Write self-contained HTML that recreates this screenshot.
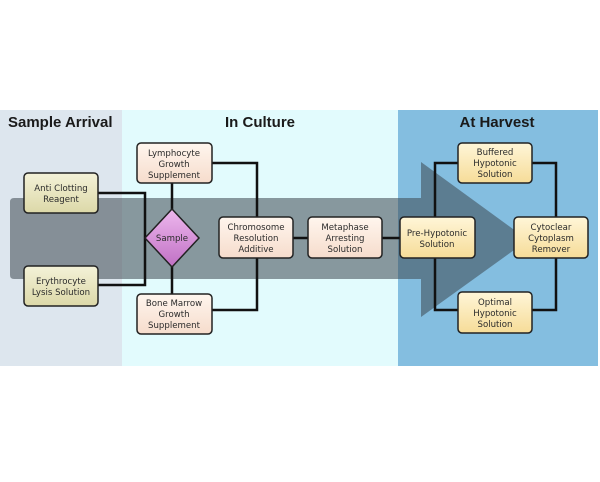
<!DOCTYPE html>
<html><head><meta charset="utf-8"><style>
html,body{margin:0;padding:0;background:#fff;}
svg{display:block;}
text{font-family:"DejaVu Sans","Liberation Sans",sans-serif;}
.t{font-family:"Liberation Sans",sans-serif;font-weight:bold;font-size:15px;fill:#1a1a1a;}
.b{font-size:8.6px;fill:#2a2a2a;text-anchor:middle;}
</style></head><body>
<svg width="600" height="482" viewBox="0 0 600 482">
<defs>
<linearGradient id="ga" x1="0" y1="0" x2="0" y2="1"><stop offset="0" stop-color="#f4f2d8"/><stop offset="1" stop-color="#dcd8a8"/></linearGradient>
<linearGradient id="gp" x1="0" y1="0" x2="0" y2="1"><stop offset="0" stop-color="#fff6ee"/><stop offset="1" stop-color="#f6dccc"/></linearGradient>
<linearGradient id="gy" x1="0" y1="0" x2="0" y2="1"><stop offset="0" stop-color="#fff6d8"/><stop offset="1" stop-color="#f6dc98"/></linearGradient>
<linearGradient id="gd" x1="0" y1="0" x2="0" y2="1"><stop offset="0" stop-color="#eeb8ee"/><stop offset="1" stop-color="#c070c4"/></linearGradient>
</defs>
<rect x="0" y="110" width="122" height="256" fill="#dde6ee"/>
<rect x="122" y="110" width="276" height="256" fill="#e2fbfd"/>
<rect x="398" y="110" width="200" height="256" fill="#84bee0"/>
<text class="t" x="8" y="127">Sample Arrival</text>
<text class="t" x="260" y="127" text-anchor="middle">In Culture</text>
<text class="t" x="497" y="127" text-anchor="middle">At Harvest</text>
<path d="M14,198 L421,198 L421,162 L528,240 L421,317 L421,279 L14,279 Q10,279 10,275 L10,202 Q10,198 14,198 Z" fill="#3d4750" fill-opacity="0.55"/>
<g fill="none" stroke="#111" stroke-width="2.5">
<polyline points="98,193 145,193 145,285 98,285"/>
<line x1="172" y1="183" x2="172" y2="294"/>
<polyline points="212,163 257,163 257,217"/>
<polyline points="257,258 257,310 212,310"/>
<line x1="293" y1="238" x2="400" y2="238"/>
<polyline points="435,217 435,163 458,163"/>
<polyline points="532,163 556,163 556,217"/>
<polyline points="435,258 435,310 458,310"/>
<polyline points="532,310 556,310 556,258"/>
</g>
<g stroke="#222" stroke-width="1.5">
<rect x="24" y="173" width="74" height="40" rx="4" fill="url(#ga)"/>
<rect x="24" y="266" width="74" height="40" rx="4" fill="url(#ga)"/>
<rect x="137" y="143" width="75" height="40" rx="4" fill="url(#gp)"/>
<rect x="137" y="294" width="75" height="40" rx="4" fill="url(#gp)"/>
<rect x="219" y="217" width="74" height="41" rx="4" fill="url(#gp)"/>
<rect x="308" y="217" width="74" height="41" rx="4" fill="url(#gp)"/>
<rect x="400" y="217" width="75" height="41" rx="4" fill="url(#gy)"/>
<rect x="514" y="217" width="74" height="41" rx="4" fill="url(#gy)"/>
<rect x="458" y="143" width="74" height="40" rx="4" fill="url(#gy)"/>
<rect x="458" y="292" width="74" height="41" rx="4" fill="url(#gy)"/>
<polygon points="172,209 199,238 172,267 145,238" fill="url(#gd)"/>
</g>
<text class="b" x="61" y="191">Anti Clotting</text><text class="b" x="61" y="202">Reagent</text>
<text class="b" x="61" y="284">Erythrocyte</text><text class="b" x="61" y="295">Lysis Solution</text>
<text class="b" x="174" y="156">Lymphocyte</text><text class="b" x="174" y="167">Growth</text><text class="b" x="174" y="178">Supplement</text>
<text class="b" x="174" y="306">Bone Marrow</text><text class="b" x="174" y="317">Growth</text><text class="b" x="174" y="328">Supplement</text>
<text class="b" x="172" y="241">Sample</text>
<text class="b" x="256" y="230">Chromosome</text><text class="b" x="256" y="241">Resolution</text><text class="b" x="256" y="252">Additive</text>
<text class="b" x="345" y="230">Metaphase</text><text class="b" x="345" y="241">Arresting</text><text class="b" x="345" y="252">Solution</text>
<text class="b" x="437" y="236">Pre-Hypotonic</text><text class="b" x="437" y="247">Solution</text>
<text class="b" x="551" y="230">Cytoclear</text><text class="b" x="551" y="241">Cytoplasm</text><text class="b" x="551" y="252">Remover</text>
<text class="b" x="495" y="155">Buffered</text><text class="b" x="495" y="166">Hypotonic</text><text class="b" x="495" y="177">Solution</text>
<text class="b" x="495" y="305">Optimal</text><text class="b" x="495" y="316">Hypotonic</text><text class="b" x="495" y="327">Solution</text>
</svg>
</body></html>
